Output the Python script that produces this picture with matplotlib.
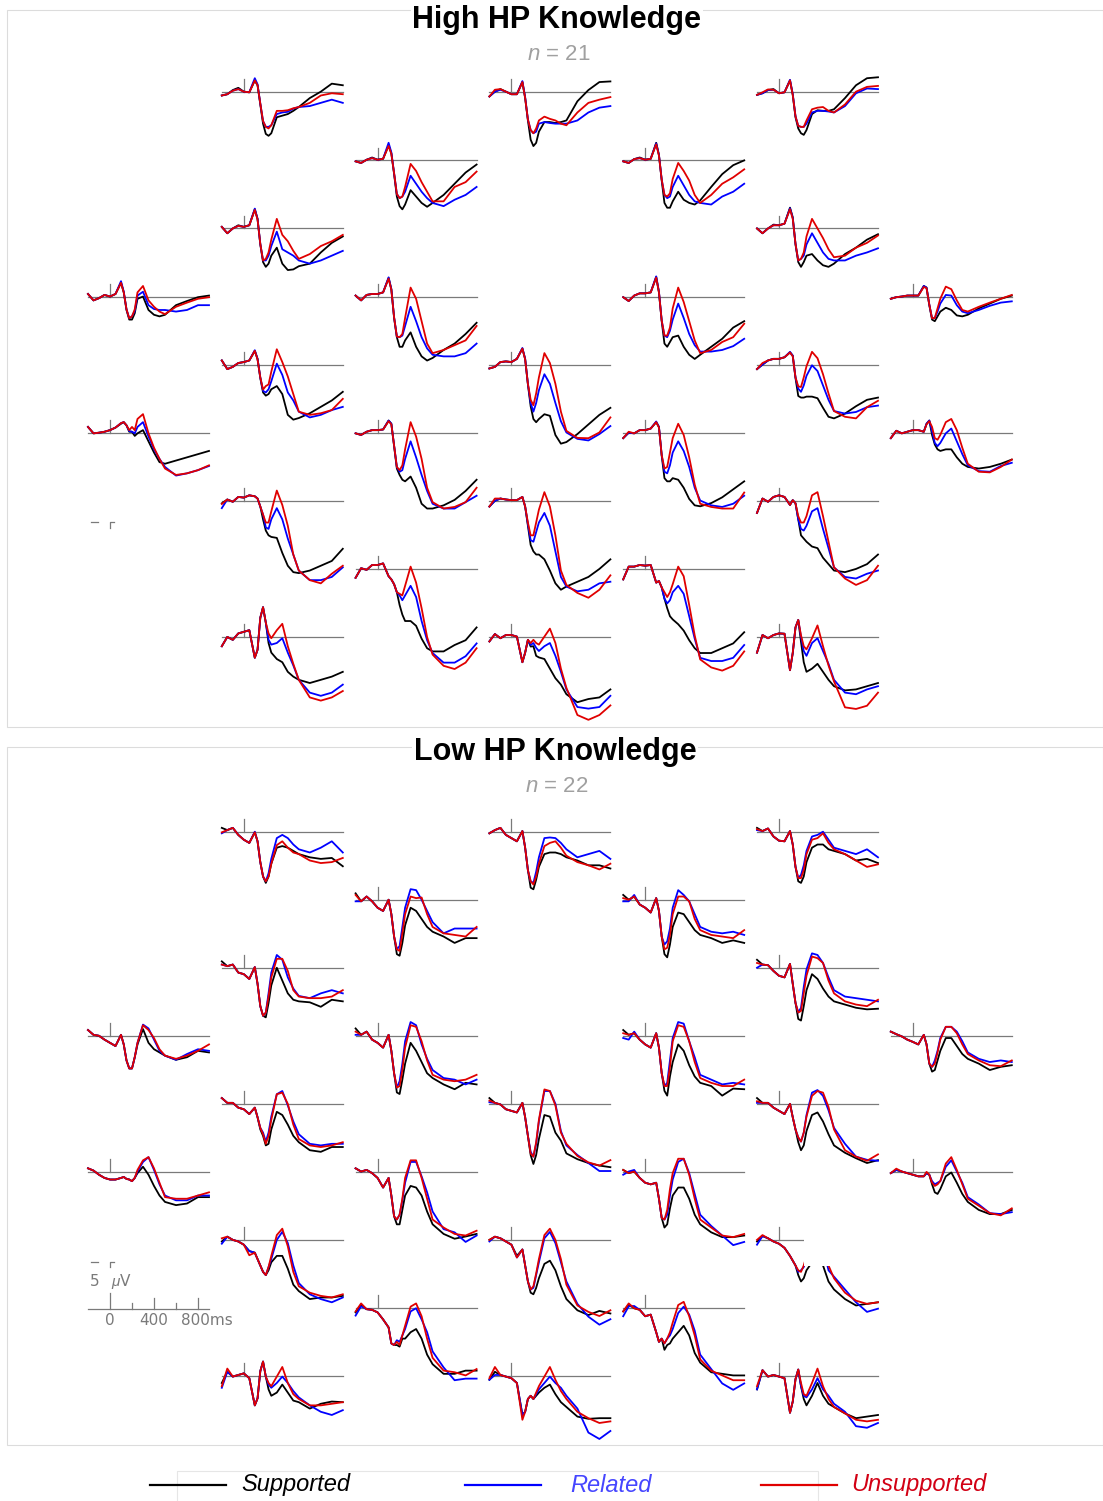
import matplotlib
matplotlib.use("Agg")
import matplotlib.pyplot as plt
from matplotlib.patches import Rectangle

plt.rcParams['font.family'] = ['Liberation Sans', 'DejaVu Sans']
plt.rcParams['mathtext.fontset'] = 'custom'
plt.rcParams['mathtext.it'] = 'Liberation Sans:italic'
plt.rcParams['mathtext.rm'] = 'Liberation Sans'

# ---------------- data ----------------
TIMES = [-200, -150, -100, -50, 0, 50, 100, 125, 150, 175, 200, 225, 250,
         300, 350, 400, 450, 500, 600, 700, 800, 900]          # ms
CONDITIONS = ['Supported', 'Related', 'Unsupported']
N_HIGH, N_LOW = 21, 22
# grid position of the 26 electrode sites (row 1..9, column 0..6)
SITE_ROW = [1, 1, 1, 2, 2, 3, 3, 4, 4, 4, 4, 5, 5, 5, 6, 6, 6, 6, 7, 7, 7, 8, 8, 9, 9, 9]
SITE_COL = [1, 3, 5, 2, 4, 1, 5, 0, 2, 4, 6, 1, 3, 5, 0, 2, 4, 6, 1, 3, 5, 2, 4, 1, 3, 5]

# amplitudes in microvolts (plotted negative up)
HIGH_SUPPORTED = [
    [1.0, 0.6, -0.7, -1.4, -0.2, 0.0, -3.7, -2.2, 3.8, 9.8, 13.0, 13.6, 12.8, 7.8, 7.3, 6.8, 5.8, 4.6, 1.8, -0.2, -2.7, -2.2],
    [1.3, -0.2, -1.0, -0.2, 0.6, 0.6, -3.2, 1.8, 8.8, 14.8, 16.8, 15.8, 12.3, 9.3, 9.3, 9.6, 9.3, 8.8, 2.8, -0.7, -3.2, -3.4],
    [0.8, 0.3, -0.7, -1.0, 0.3, 0.0, -3.7, 0.8, 7.8, 11.3, 12.8, 13.3, 11.8, 6.8, 5.6, 5.8, 5.8, 5.3, 1.8, -2.2, -4.4, -4.7],
    [0.3, 0.8, -0.2, -0.9, -0.2, -0.5, -4.7, -2.2, 4.3, 11.3, 14.3, 15.3, 13.8, 9.3, 11.3, 13.3, 14.5, 13.3, 10.8, 7.3, 3.8, 1.3],
    [0.3, 0.8, -0.4, -0.9, -0.2, -0.5, -5.5, -1.7, 6.3, 13.3, 14.8, 14.8, 12.8, 9.8, 12.3, 13.3, 13.8, 12.5, 8.3, 4.3, 1.5, 0.0],
    [-0.5, 1.5, 0.0, -1.0, -0.5, -1.0, -6.0, -3.0, 5.0, 10.5, 12.0, 11.0, 8.5, 6.0, 11.0, 13.0, 12.8, 11.8, 11.0, 7.5, 4.5, 2.5],
    [0.0, 1.5, 0.0, -1.2, -1.0, -1.5, -6.5, -3.5, 5.0, 10.5, 12.0, 10.5, 8.5, 8.0, 10.0, 11.5, 12.0, 11.0, 8.0, 6.0, 3.5, 1.8],
    [-0.8, 1.2, 0.5, -0.5, 0.0, -0.8, -4.3, -1.3, 4.2, 7.2, 7.2, 5.2, 0.7, 0.0, 4.2, 5.7, 6.2, 5.7, 2.7, 1.4, 0.2, -0.3],
    [-0.3, 1.2, -0.5, -0.8, -0.8, -1.3, -5.8, -2.3, 6.7, 12.7, 15.7, 15.7, 13.7, 11.2, 15.7, 18.7, 20.0, 19.2, 16.7, 14.7, 11.7, 8.2],
    [0.2, 1.4, -0.3, -1.0, -1.0, -1.3, -6.1, -1.3, 7.7, 14.7, 15.7, 14.2, 12.7, 12.2, 15.7, 18.2, 19.5, 18.2, 15.7, 13.2, 9.7, 7.7],
    [0.7, 0.2, 0.0, -0.3, -0.3, -0.3, -3.3, -2.8, 2.7, 7.2, 7.7, 6.2, 4.7, 3.5, 4.2, 5.9, 6.2, 5.7, 3.7, 2.2, 0.7, -0.3],
    [-1.3, 1.4, 0.7, -0.5, -0.8, -1.3, -4.3, -1.8, 4.2, 8.7, 9.7, 9.2, 7.7, 6.7, 9.2, 15.7, 17.2, 16.7, 15.2, 13.2, 11.2, 8.5],
    [1.2, 0.7, -0.8, -1.0, -0.8, -1.8, -5.0, -1.8, 6.2, 13.0, 17.0, 18.0, 17.0, 15.5, 16.0, 22.0, 24.7, 24.2, 21.7, 18.7, 15.7, 13.5],
    [1.4, 0.0, -1.3, -1.8, -1.8, -2.3, -3.8, -2.8, 4.2, 9.8, 10.3, 10.3, 10.0, 10.0, 10.5, 13.5, 16.3, 16.8, 15.3, 13.0, 11.0, 10.3],
    [-1.8, 0.2, 0.0, -0.3, -0.8, -1.6, -2.8, -3.3, -2.3, -0.3, -0.3, 1.0, 0.2, -0.8, 2.7, 6.2, 9.2, 9.7, 8.7, 7.7, 6.7, 5.7],
    [0.2, 0.7, -0.3, -0.8, -0.8, -1.0, -3.8, -2.8, 4.2, 11.2, 13.2, 14.7, 15.2, 13.7, 17.2, 22.2, 23.7, 23.7, 22.7, 21.0, 18.2, 14.7],
    [1.7, 0.0, 0.2, -0.8, -0.8, -1.3, -3.3, -1.8, 7.2, 14.2, 15.2, 15.2, 14.2, 14.7, 17.2, 20.7, 22.7, 23.0, 22.0, 20.2, 17.7, 15.2],
    [1.7, -0.6, 0.2, -0.3, -0.8, -0.8, -0.3, -2.8, -3.8, 0.7, 3.7, 5.2, 5.7, 5.2, 5.2, 7.7, 9.7, 10.7, 11.2, 10.7, 9.7, 8.4],
    [0.8, -0.4, 0.3, -1.2, -1.0, -1.7, -1.4, -0.7, 1.8, 5.8, 9.3, 10.8, 11.3, 11.6, 16.3, 20.3, 22.3, 22.6, 21.8, 20.3, 18.8, 15.0],
    [1.8, 0.0, -0.7, -0.4, -0.2, -0.2, -1.2, 1.8, 7.8, 13.8, 15.8, 16.8, 16.8, 18.3, 21.8, 25.8, 27.8, 26.8, 25.3, 23.8, 21.3, 18.3],
    [3.8, -0.7, 0.3, -1.2, -1.7, -1.2, 1.3, -0.2, 0.8, 5.8, 10.8, 11.8, 12.8, 14.3, 14.8, 17.8, 19.8, 21.8, 22.3, 21.3, 19.8, 16.8],
    [2.8, -0.2, 0.3, -1.2, -1.2, -1.7, 2.3, 3.3, 4.8, 7.3, 11.3, 14.3, 16.3, 16.3, 17.8, 21.8, 24.8, 25.8, 25.8, 23.8, 22.3, 18.3],
    [3.3, -0.7, -0.7, -1.2, -1.0, -1.2, 4.3, 3.8, 5.8, 9.3, 12.3, 14.8, 15.8, 17.3, 19.3, 22.3, 24.8, 26.3, 26.3, 24.8, 23.3, 19.8],
    [2.9, 0.0, 0.9, -1.1, -1.6, -2.1, 6.5, 4.0, -6.0, -9.3, -4.5, 1.9, 4.9, 6.9, 7.9, 10.9, 12.4, 13.4, 14.4, 13.4, 12.4, 10.9],
    [1.4, -0.9, 0.4, -0.6, -0.6, -0.1, 7.9, 4.9, 0.9, 3.0, 2.9, 5.9, 6.4, 6.9, 9.9, 12.9, 14.9, 17.9, 20.4, 19.4, 18.9, 16.4],
    [4.9, -0.6, 0.4, -0.6, -1.1, -1.0, 10.4, 5.0, -3.0, -5.3, 1.5, 7.9, 10.9, 9.9, 8.4, 10.9, 13.4, 15.4, 16.7, 16.4, 15.4, 14.4],
]
HIGH_RELATED = [
    [1.0, 0.6, -0.5, -1.0, -0.2, 0.0, -4.4, -2.5, 3.5, 9.0, 10.8, 10.8, 10.3, 6.8, 6.3, 6.1, 5.1, 4.6, 4.3, 3.3, 2.3, 3.3],
    [1.3, -0.2, -0.8, -0.2, 0.6, 0.6, -3.5, 1.5, 8.5, 11.8, 12.8, 12.3, 9.8, 9.3, 9.6, 9.8, 9.8, 9.8, 8.8, 6.3, 4.8, 4.3],
    [0.8, 0.3, -0.7, -0.8, 0.3, 0.0, -3.9, 0.5, 7.5, 10.5, 10.8, 10.8, 9.8, 6.3, 5.8, 5.8, 6.0, 6.3, 4.3, 0.3, -1.2, -1.0],
    [0.3, 0.8, -0.2, -0.7, -0.2, -0.5, -5.5, -2.5, 4.0, 10.5, 11.8, 11.3, 9.8, 4.8, 7.3, 9.8, 11.8, 13.3, 14.3, 12.3, 10.8, 8.3],
    [0.3, 0.8, -0.4, -0.7, -0.2, -0.5, -5.3, -1.7, 6.0, 10.8, 11.8, 11.3, 8.3, 4.8, 7.8, 10.8, 12.8, 13.3, 13.8, 11.3, 9.8, 7.3],
    [-0.5, 1.5, 0.0, -0.8, -0.5, -1.0, -6.2, -3.0, 4.8, 10.0, 10.0, 8.5, 5.5, 1.0, 6.5, 7.5, 8.5, 10.0, 11.0, 10.0, 8.5, 7.0],
    [0.0, 1.5, 0.0, -1.0, -1.0, -1.5, -6.3, -3.3, 4.8, 10.0, 9.5, 8.5, 5.0, 1.5, 4.5, 7.5, 9.5, 10.0, 10.0, 8.5, 7.5, 6.2],
    [-0.8, 1.2, 0.5, -0.5, 0.0, -0.8, -4.8, -1.5, 4.0, 6.8, 6.2, 4.5, -0.3, -1.5, 2.7, 3.9, 4.2, 4.2, 4.7, 4.2, 2.7, 2.7],
    [-0.3, 1.2, -0.5, -0.8, -0.8, -1.3, -6.0, -2.3, 6.5, 12.5, 12.7, 12.2, 9.2, 3.2, 7.7, 12.7, 16.2, 18.2, 18.7, 18.7, 17.7, 14.7],
    [0.2, 1.4, -0.3, -1.0, -1.0, -1.3, -6.3, -1.5, 7.5, 12.2, 12.7, 10.7, 7.2, 2.2, 6.7, 11.7, 15.2, 17.2, 17.2, 16.7, 15.5, 13.2],
    [0.7, 0.2, 0.0, -0.3, -0.3, -0.3, -3.3, -2.8, 2.5, 6.8, 6.7, 4.7, 2.2, -0.5, -0.3, 2.7, 4.7, 5.2, 4.2, 2.9, 1.9, 1.5],
    [-1.3, 1.4, 0.7, -0.5, -0.8, -1.3, -4.5, -1.8, 4.0, 8.2, 8.7, 7.7, 5.2, -0.3, 3.2, 8.7, 11.2, 14.7, 16.5, 15.7, 14.2, 13.2],
    [1.2, 0.7, -0.8, -1.0, -0.8, -1.8, -5.2, -1.8, 6.0, 12.0, 14.7, 12.0, 8.0, 3.0, 6.0, 12.0, 17.7, 21.2, 23.2, 23.7, 21.7, 19.2],
    [1.4, 0.0, -1.3, -1.8, -1.8, -2.3, -4.0, -2.8, 4.0, 7.5, 8.5, 6.5, 3.5, 0.2, 2.0, 6.5, 11.0, 14.5, 15.3, 14.8, 13.3, 12.8],
    [-1.8, 0.2, 0.0, -0.3, -0.8, -1.6, -3.0, -3.3, -2.3, -0.5, -0.3, 0.2, -1.8, -3.3, 1.2, 5.2, 8.2, 10.7, 13.4, 12.7, 11.7, 10.4],
    [0.2, 0.7, -0.3, -0.8, -0.8, -1.0, -3.8, -2.8, 4.0, 10.7, 12.2, 11.7, 8.2, 2.7, 7.7, 13.2, 18.2, 22.2, 23.7, 23.7, 21.7, 19.7],
    [1.7, 0.0, 0.2, -0.8, -0.8, -1.3, -3.5, -1.8, 7.0, 12.2, 12.7, 10.2, 6.2, 2.7, 5.7, 10.7, 17.2, 21.2, 22.7, 23.2, 22.2, 19.7],
    [1.7, -0.6, 0.2, -0.3, -0.8, -0.8, -0.3, -2.8, -3.8, -0.5, 3.2, 4.2, 3.2, 0.2, -1.3, 2.7, 6.7, 10.2, 12.0, 12.2, 10.4, 9.4],
    [2.3, -0.4, 0.3, -1.2, -1.0, -1.7, -1.4, -0.7, 1.8, 4.3, 8.3, 8.8, 5.8, 2.3, 5.8, 11.8, 16.8, 21.8, 24.8, 24.8, 23.8, 20.8],
    [1.8, 0.0, -0.7, -0.4, -0.2, -0.2, -1.2, 1.8, 7.3, 12.3, 12.8, 9.8, 6.8, 3.8, 7.8, 15.8, 23.8, 26.8, 28.3, 27.8, 25.8, 25.3],
    [3.8, -0.7, 0.3, -1.2, -1.7, -1.2, 1.3, -0.2, 0.8, 5.8, 8.8, 9.3, 7.8, 3.3, 2.3, 8.8, 14.8, 20.8, 23.8, 24.3, 22.8, 21.8],
    [2.8, -0.2, 0.3, -1.2, -1.2, -1.7, 2.3, 3.3, 4.8, 7.3, 8.3, 9.8, 8.3, 5.3, 8.8, 16.3, 22.3, 26.3, 29.3, 29.3, 27.3, 23.3],
    [3.3, -0.7, -0.7, -1.2, -1.0, -1.2, 4.3, 3.8, 5.8, 9.3, 10.8, 9.8, 7.3, 5.3, 7.8, 14.8, 21.8, 27.8, 28.8, 28.8, 27.8, 23.8],
    [2.9, 0.0, 0.9, -1.1, -1.6, -2.1, 6.5, 4.0, -6.0, -9.3, -4.5, 0.9, 2.4, 1.9, 0.4, 4.9, 8.9, 13.4, 17.4, 18.4, 17.4, 14.9],
    [1.4, -0.9, 0.4, -0.6, -0.6, -0.1, 7.9, 4.9, 0.9, 2.5, 1.9, 3.4, 4.4, 2.9, 1.9, 5.9, 10.9, 16.4, 21.9, 22.4, 21.9, 18.4],
    [4.9, -0.6, 0.4, -0.6, -1.1, -1.0, 10.4, 5.0, -3.0, -5.3, 0.0, 4.4, 5.9, 1.9, 0.4, 4.4, 8.4, 13.4, 17.4, 17.9, 16.4, 15.4],
]
HIGH_UNSUPPORTED = [
    [1.0, 0.6, -0.5, -1.0, -0.2, 0.0, -3.7, -2.2, 3.5, 9.0, 10.8, 11.3, 10.3, 5.8, 5.8, 5.6, 5.0, 4.6, 3.3, 1.0, 0.3, 0.6],
    [1.3, -0.8, -1.0, -0.2, 0.6, 0.6, -3.2, 1.8, 8.5, 11.8, 12.8, 11.3, 8.8, 7.6, 8.3, 8.8, 9.8, 10.3, 6.3, 3.3, 2.3, 1.5],
    [0.8, 0.0, -0.9, -0.8, 0.3, 0.0, -3.7, 0.8, 7.5, 10.5, 10.8, 10.8, 8.8, 5.3, 4.8, 4.6, 5.8, 6.3, 3.8, -0.2, -1.7, -2.0],
    [0.3, 0.8, -0.2, -0.7, -0.2, -0.5, -4.5, -2.0, 4.0, 10.5, 11.8, 11.3, 8.3, 1.1, 3.3, 6.8, 9.8, 12.8, 12.8, 8.3, 6.8, 3.5],
    [0.3, 0.8, -0.4, -0.7, -0.2, -0.5, -5.0, -1.5, 6.0, 10.8, 11.3, 10.3, 5.8, 0.8, 3.3, 6.3, 10.8, 13.3, 10.8, 7.3, 5.3, 2.8],
    [-0.5, 1.5, 0.0, -0.8, -0.5, -1.0, -5.8, -2.8, 4.8, 10.0, 9.5, 7.5, 3.5, -3.0, 2.0, 4.0, 7.0, 9.5, 8.0, 5.5, 4.0, 2.0],
    [0.0, 1.5, 0.0, -1.0, -1.0, -1.5, -6.0, -3.0, 4.8, 10.0, 9.5, 7.5, 2.5, -3.0, 0.0, 3.0, 6.5, 9.0, 8.5, 6.0, 4.5, 2.2],
    [-0.8, 1.2, 0.5, -0.5, 0.0, -0.8, -4.3, -1.3, 4.0, 6.8, 6.2, 4.0, -1.3, -3.3, 1.2, 3.2, 4.7, 5.5, 3.2, 1.9, 0.7, 0.2],
    [-0.3, 1.2, -0.5, -0.8, -0.8, -1.3, -5.6, -2.1, 6.5, 12.5, 12.7, 11.7, 6.7, -2.8, 0.7, 7.7, 14.7, 17.7, 16.7, 15.2, 13.7, 9.2],
    [0.2, 1.4, -0.3, -1.0, -1.0, -1.3, -5.9, -1.3, 7.5, 12.2, 12.2, 9.7, 3.7, -2.8, 1.7, 7.7, 13.7, 17.7, 16.7, 14.2, 12.7, 8.5],
    [0.7, 0.2, 0.0, -0.3, -0.3, -0.3, -3.0, -2.6, 2.5, 6.8, 6.7, 3.7, 0.7, -3.1, -2.3, 1.2, 4.2, 4.7, 3.2, 1.9, 0.7, -0.5],
    [-1.3, 1.4, 0.7, -0.5, -0.8, -1.3, -4.3, -1.6, 4.0, 7.8, 6.7, 6.2, 2.2, -4.8, -0.8, 3.7, 9.2, 14.7, 15.7, 15.2, 14.2, 10.7],
    [1.2, 0.7, -0.8, -1.0, -0.8, -1.8, -5.0, -1.6, 6.0, 11.0, 12.7, 9.0, 4.0, -3.6, -0.5, 6.0, 14.7, 20.7, 22.9, 23.0, 21.2, 16.5],
    [1.4, -0.5, -1.3, -1.8, -1.8, -2.3, -3.8, -2.6, 4.0, 6.8, 7.0, 4.0, 0.5, -4.0, -2.0, 3.0, 9.0, 14.5, 16.3, 16.8, 13.3, 11.3],
    [-1.8, 0.2, 0.0, -0.3, -0.8, -1.6, -3.0, -3.3, -2.3, -0.8, -1.8, -0.8, -4.3, -5.8, 0.2, 4.7, 8.2, 11.2, 13.2, 12.7, 11.7, 10.2],
    [0.2, 0.7, -0.3, -0.8, -0.8, -1.0, -3.6, -2.6, 4.0, 10.7, 11.7, 10.2, 5.2, -3.3, 1.2, 8.2, 17.2, 21.7, 23.7, 23.2, 21.7, 17.2],
    [1.7, -0.3, 0.2, -0.8, -0.8, -1.3, -3.3, -1.6, 7.0, 11.2, 10.7, 6.2, 1.7, -2.8, 0.7, 7.7, 16.2, 22.2, 23.2, 23.7, 23.7, 18.7],
    [1.7, -0.6, 0.2, -0.3, -0.8, -0.8, -0.3, -2.6, -3.6, -1.8, 1.7, 2.2, 0.7, -3.3, -4.3, -0.8, 4.7, 9.7, 12.2, 12.4, 10.7, 8.4],
    [1.0, -0.4, 0.3, -1.2, -1.0, -1.7, -1.4, -0.7, 1.8, 4.3, 6.8, 6.8, 3.3, -3.2, 1.3, 7.8, 16.8, 21.8, 24.8, 25.8, 22.8, 20.3],
    [1.8, -0.7, -0.7, -0.4, -0.2, -0.2, -1.2, 1.8, 6.8, 10.8, 10.8, 6.8, 2.8, -2.7, 1.8, 10.8, 21.8, 26.3, 28.8, 30.3, 27.8, 23.3],
    [3.8, -0.7, 0.3, -1.2, -1.7, -1.2, 1.3, -0.2, 0.8, 4.8, 6.8, 6.8, 4.8, -1.7, -2.7, 4.8, 12.8, 20.8, 24.3, 26.3, 24.8, 20.3],
    [2.8, -0.2, 0.3, -1.2, -1.2, -1.7, 2.3, 3.3, 4.8, 7.3, 7.8, 8.3, 5.3, -0.7, 4.3, 12.3, 21.3, 26.8, 30.3, 31.3, 29.3, 24.8],
    [3.3, -0.7, -0.7, -1.2, -1.0, -1.2, 4.3, 3.8, 5.8, 7.3, 8.8, 7.3, 4.8, -0.7, 2.3, 11.3, 20.8, 28.3, 30.8, 31.8, 30.3, 25.8],
    [2.9, 0.0, 0.9, -1.1, -1.6, -2.1, 6.5, 4.0, -6.0, -9.3, -4.5, -1.1, 0.4, -2.1, -4.1, 2.9, 8.4, 13.4, 18.9, 19.9, 18.9, 16.9],
    [1.4, -0.9, 0.4, -0.6, -0.6, -0.1, 7.9, 4.9, 0.9, 1.9, 0.9, 1.9, 2.4, -0.1, -2.6, 1.9, 9.9, 15.9, 24.4, 25.9, 24.4, 21.4],
    [4.9, -0.6, 0.4, -0.6, -1.1, -1.0, 10.4, 5.0, -3.0, -5.3, -0.5, 2.9, 3.9, 0.4, -3.6, 2.9, 8.9, 13.9, 22.0, 22.5, 21.5, 17.4],
]
LOW_SUPPORTED = [
    [-1.2, -0.5, -1.2, 1.0, 2.5, 3.5, 0.2, 3.0, 9.5, 14.0, 16.0, 14.0, 10.0, 5.0, 4.5, 5.0, 6.0, 7.0, 8.0, 8.5, 8.2, 10.8],
    [0.5, -0.5, -1.2, 1.0, 2.0, 3.0, -0.2, 5.0, 12.0, 17.5, 18.0, 15.0, 11.0, 7.0, 6.5, 6.5, 7.0, 8.0, 9.0, 10.5, 10.5, 11.5],
    [-1.2, -0.2, -1.0, 1.5, 2.8, 3.0, -0.2, 4.0, 11.0, 15.5, 16.0, 14.0, 9.5, 5.0, 4.0, 4.0, 5.5, 6.0, 7.0, 9.0, 8.5, 9.8],
    [-2.0, 0.5, -1.0, 0.5, 2.5, 3.5, 0.0, 4.5, 11.5, 17.0, 17.5, 13.5, 8.0, 2.5, 3.5, 6.0, 8.5, 10.0, 11.5, 13.5, 12.0, 12.0],
    [-1.5, 0.0, -1.0, 1.5, 2.5, 4.0, -0.5, 3.5, 11.5, 17.0, 18.0, 14.0, 8.5, 4.0, 4.5, 7.0, 9.5, 11.0, 12.0, 13.5, 12.7, 13.5],
    [-2.0, -0.5, -1.0, 1.5, 2.0, 3.5, -0.2, 5.0, 12.0, 15.0, 15.5, 11.0, 5.5, 0.0, 4.0, 8.0, 10.0, 10.5, 10.8, 12.2, 10.0, 10.5],
    [-2.5, -1.0, -0.8, 1.0, 2.5, 3.0, -1.2, 5.0, 11.0, 16.0, 16.5, 12.0, 7.0, 2.0, 3.5, 6.5, 9.0, 10.5, 11.5, 12.5, 13.0, 12.8],
    [-1.8, -0.3, 0.0, 1.2, 2.2, 3.2, -0.3, 2.7, 7.7, 10.2, 10.2, 6.7, 2.7, -2.1, 2.2, 4.2, 5.2, 6.2, 7.5, 6.7, 4.7, 5.2],
    [-2.3, -0.3, -1.3, 1.2, 2.2, 3.7, -0.3, 4.7, 11.7, 17.7, 18.2, 13.7, 8.7, 2.2, 4.7, 8.2, 11.7, 13.2, 15.2, 16.7, 14.7, 15.2],
    [-1.8, -0.3, -0.8, 1.2, 2.7, 3.7, -0.8, 3.7, 11.7, 17.2, 18.7, 12.7, 8.2, 2.7, 4.7, 9.2, 12.7, 14.7, 15.7, 18.7, 16.5, 16.7],
    [-1.3, -0.5, 0.2, 1.2, 1.9, 2.7, -0.3, 2.7, 8.7, 11.2, 10.7, 7.7, 4.7, 0.7, 0.7, 3.2, 5.7, 7.2, 8.7, 10.7, 9.7, 9.2],
    [-1.8, -0.3, -0.3, 1.2, 1.7, 3.2, 1.2, 4.2, 8.0, 10.0, 13.0, 12.5, 8.0, 2.5, 3.5, 6.5, 10.0, 12.0, 14.5, 15.0, 13.5, 13.5],
    [-1.8, -0.3, 0.2, 1.7, 2.2, 2.7, -0.3, 4.2, 10.0, 16.0, 18.8, 16.0, 11.0, 3.5, 4.0, 9.0, 11.5, 15.5, 17.3, 18.5, 19.3, 19.8],
    [-1.8, -0.3, -0.3, 1.2, 2.2, 3.2, 0.0, 4.2, 8.0, 12.0, 14.5, 13.0, 8.5, 3.5, 2.7, 5.5, 9.5, 13.0, 15.3, 17.0, 18.5, 17.6],
    [-1.1, -0.4, 0.9, 1.9, 2.4, 2.4, 1.9, 1.6, 2.2, 2.4, 2.9, 1.9, 0.4, -1.6, 0.9, 4.4, 7.4, 9.4, 10.4, 9.9, 7.9, 7.9],
    [-1.1, -0.1, -0.6, 0.4, 1.9, 4.9, 1.9, 7.4, 13.9, 16.4, 16.4, 11.9, 7.4, 4.4, 4.9, 7.4, 12.4, 16.4, 19.4, 20.9, 20.2, 19.4],
    [-0.6, 0.4, -0.1, 1.9, 3.4, 3.9, 3.4, 8.4, 14.4, 17.4, 16.4, 11.4, 7.4, 4.9, 4.9, 8.4, 13.4, 16.4, 18.9, 20.4, 20.4, 19.9],
    [0.4, -0.6, -0.1, 0.4, 0.9, 1.4, 1.4, 0.4, 0.9, 3.9, 6.4, 6.9, 5.4, 1.4, 0.2, 3.4, 6.9, 9.4, 11.9, 13.2, 13.2, 11.9],
    [0.5, -1.0, 0.0, 0.5, 1.5, 3.5, 4.0, 6.0, 8.0, 10.0, 11.0, 9.5, 7.0, 5.0, 5.0, 9.0, 14.0, 16.0, 18.5, 18.0, 18.0, 17.5],
    [0.0, -1.0, -0.5, 0.5, 1.5, 5.0, 3.0, 8.0, 13.0, 16.5, 17.0, 15.0, 12.0, 7.5, 6.5, 9.5, 14.5, 18.5, 22.0, 23.5, 22.2, 23.0],
    [0.5, -1.2, -0.5, 0.5, 1.2, 2.5, 5.0, 6.5, 8.0, 11.0, 13.0, 12.0, 9.5, 7.0, 6.0, 8.0, 13.0, 15.5, 18.5, 20.5, 20.0, 19.5],
    [1.4, -1.0, 0.4, 0.6, 1.4, 3.6, 6.1, 11.1, 11.6, 11.6, 12.1, 9.6, 9.6, 7.6, 6.6, 9.6, 14.6, 17.6, 20.6, 20.6, 19.6, 19.6],
    [1.1, -1.0, 0.1, 0.6, 2.6, 2.1, 7.6, 10.6, 9.6, 13.1, 11.6, 11.1, 9.6, 7.6, 5.6, 8.6, 14.1, 17.1, 20.1, 20.6, 21.1, 21.1],
    [2.2, -1.3, 0.2, -0.3, -0.8, 0.7, 9.2, 7.0, -1.5, -4.5, 0.2, 4.2, 6.2, 5.2, 2.7, 5.2, 7.7, 8.2, 10.2, 8.7, 8.0, 8.2],
    [1.2, -1.3, -0.3, 0.2, 0.7, 2.2, 12.2, 11.2, 7.2, 6.2, 7.2, 6.2, 5.2, 3.7, 2.7, 5.7, 8.2, 9.7, 12.7, 13.4, 13.2, 13.2],
    [4.2, -1.8, 0.2, -0.3, 0.2, 0.7, 11.5, 8.0, 1.0, -2.0, 3.2, 7.2, 9.2, 6.2, 2.2, 6.2, 8.7, 9.7, 11.7, 13.2, 12.7, 12.2],
]
LOW_RELATED = [
    [0.5, -0.5, -1.2, 1.0, 2.5, 3.5, 0.0, 3.0, 9.5, 14.0, 15.5, 13.0, 8.5, 2.0, 1.0, 2.0, 4.0, 5.5, 6.5, 5.0, 3.0, 6.5],
    [0.5, -0.5, -1.2, 1.0, 2.0, 3.0, -0.2, 5.0, 12.0, 15.5, 16.0, 12.5, 8.0, 2.0, 1.8, 2.0, 3.5, 5.5, 8.0, 7.0, 6.0, 8.5],
    [-0.5, -0.2, -1.0, 1.5, 2.8, 3.0, -0.2, 4.0, 11.0, 14.5, 13.5, 10.5, 6.0, 1.5, 1.0, 0.0, 2.5, 5.0, 6.0, 7.0, 5.5, 8.0],
    [0.5, 0.5, -1.0, 0.5, 2.5, 3.5, 0.0, 4.5, 11.5, 15.5, 14.5, 8.5, 2.5, -3.3, -3.0, 0.0, 3.5, 7.0, 10.5, 9.0, 9.0, 9.0],
    [0.5, 0.5, -1.5, 1.5, 2.5, 4.0, -0.5, 3.5, 11.5, 14.0, 13.0, 9.0, 2.5, -3.0, -1.5, 0.5, 4.5, 8.5, 10.0, 10.5, 10.0, 11.0],
    [-1.0, -0.5, -1.0, 1.5, 2.0, 3.5, -0.2, 5.0, 12.0, 15.0, 14.0, 8.0, 1.5, -4.0, -2.5, 3.0, 6.5, 8.8, 9.5, 8.0, 7.0, 8.0],
    [0.0, -1.0, -0.8, 1.0, 2.5, 3.0, -1.2, 5.0, 11.0, 14.0, 12.5, 6.0, 0.5, -4.5, -4.0, -1.5, 3.0, 7.0, 9.0, 9.5, 10.0, 10.5],
    [-1.8, -0.3, 0.0, 1.2, 2.2, 3.2, -0.3, 2.7, 7.7, 10.2, 10.2, 6.7, 2.2, -3.5, -2.3, 1.2, 4.7, 6.2, 7.5, 5.7, 4.2, 4.7],
    [-0.3, -0.3, -1.3, 1.2, 2.2, 3.7, -0.3, 4.7, 11.7, 16.2, 14.2, 8.7, 1.7, -4.3, -3.3, 2.7, 7.2, 10.7, 13.2, 13.7, 15.2, 13.7],
    [0.7, 1.2, -1.3, 1.2, 2.7, 3.7, -0.8, 3.7, 11.7, 15.7, 14.7, 7.7, 0.7, -4.3, -3.8, 1.7, 6.7, 12.2, 13.7, 15.2, 14.7, 15.2],
    [-1.3, -0.5, 0.2, 1.2, 1.9, 2.7, -0.3, 2.7, 8.7, 9.7, 7.7, 4.7, 0.7, -2.8, -2.8, -1.3, 1.7, 5.2, 7.2, 8.2, 7.7, 8.2],
    [-1.8, -0.3, -0.3, 1.2, 1.7, 3.2, 1.2, 4.2, 7.5, 9.0, 11.8, 9.0, 4.0, -3.0, -4.0, 0.5, 5.5, 9.5, 12.5, 13.0, 12.5, 12.5],
    [-0.5, -0.3, 0.2, 1.7, 2.2, 2.7, -0.3, 4.2, 10.0, 15.0, 16.5, 12.5, 5.5, -4.0, -4.0, 0.0, 8.5, 13.0, 16.0, 18.5, 21.0, 21.0],
    [-0.3, -0.3, -0.3, 1.2, 2.2, 3.2, 0.0, 4.2, 8.0, 10.5, 11.8, 9.0, 3.5, -3.5, -4.3, -2.5, 2.0, 7.5, 12.5, 16.5, 17.5, 17.8],
    [-1.1, -0.4, 0.9, 1.9, 2.4, 2.4, 1.9, 1.6, 2.2, 2.4, 2.9, 1.9, -0.1, -3.1, -4.6, -0.6, 3.9, 7.4, 8.9, 8.9, 7.4, 7.4],
    [-1.1, -0.1, -0.6, 0.4, 1.9, 4.9, 1.9, 7.4, 13.9, 14.9, 13.4, 8.9, 3.4, -3.1, -3.1, 1.4, 6.4, 12.4, 17.9, 18.9, 21.9, 19.9],
    [0.9, -0.1, -0.6, 1.9, 3.4, 3.9, 3.4, 8.4, 14.4, 14.9, 13.4, 7.4, 2.4, -3.1, -4.1, 0.4, 6.9, 13.4, 16.9, 19.9, 22.9, 21.9],
    [0.4, -0.6, -0.1, 0.4, 0.9, 1.4, 1.4, 0.4, 0.9, 2.9, 3.9, 3.4, 2.9, -1.6, -3.6, -0.1, 3.4, 7.9, 10.2, 12.9, 13.2, 12.6],
    [1.2, -1.0, 0.0, 0.5, 1.5, 3.5, 4.0, 6.0, 8.0, 10.0, 11.0, 8.5, 6.0, 0.0, -2.5, 1.0, 8.0, 13.5, 17.0, 18.5, 19.5, 18.0],
    [0.5, -1.0, -0.5, 0.5, 1.5, 5.5, 3.0, 8.0, 13.0, 15.5, 15.0, 11.0, 7.0, -0.5, -2.5, 1.0, 7.0, 13.0, 20.0, 24.0, 26.5, 24.8],
    [1.5, -1.2, -0.5, 0.5, 1.2, 2.5, 5.0, 6.5, 8.0, 10.0, 9.5, 8.5, 6.0, 0.5, -2.0, 2.0, 9.5, 11.5, 15.5, 19.5, 22.5, 21.5],
    [2.4, -0.5, 0.4, 0.6, 1.4, 3.6, 6.1, 11.1, 11.6, 10.1, 10.6, 8.6, 6.6, 1.1, 0.1, 3.6, 7.6, 13.6, 18.6, 22.6, 22.1, 22.1],
    [2.6, -0.5, -0.6, 0.6, 2.6, 2.1, 7.6, 10.6, 9.6, 11.1, 9.6, 8.6, 6.6, 1.6, -0.4, 2.1, 7.1, 14.6, 19.1, 23.6, 25.6, 23.6],
    [3.7, -1.3, 0.2, -0.3, -0.8, 0.7, 9.2, 7.0, -1.5, -4.5, 0.2, 2.7, 3.7, 2.2, 0.2, 2.2, 4.7, 6.7, 9.2, 11.2, 12.2, 10.7],
    [1.2, -0.3, -0.3, 0.2, 0.7, 2.2, 12.2, 11.2, 7.2, 6.2, 7.2, 5.7, 4.2, 2.2, 0.2, 2.2, 3.7, 6.2, 10.2, 17.7, 19.7, 17.2],
    [4.2, -1.8, 0.2, -0.3, 0.2, 0.7, 11.5, 8.0, 1.0, -2.0, 3.2, 6.2, 6.7, 4.2, 0.7, 4.2, 6.2, 8.7, 11.2, 15.7, 16.2, 14.7],
]
LOW_UNSUPPORTED = [
    [0.2, -0.5, -1.2, 1.0, 2.5, 3.5, 0.2, 3.0, 9.5, 14.0, 15.5, 14.0, 10.0, 4.2, 3.0, 5.0, 6.5, 7.0, 9.0, 9.8, 9.5, 8.2],
    [0.5, -0.5, -1.2, 1.0, 2.0, 3.0, -0.2, 5.0, 12.0, 15.5, 16.5, 14.0, 10.0, 4.5, 3.5, 3.0, 5.0, 7.5, 9.5, 10.5, 11.8, 10.0],
    [-0.8, -0.2, -1.0, 1.5, 2.8, 3.0, -0.2, 4.0, 11.0, 14.5, 14.5, 12.0, 7.0, 2.5, 2.0, 0.5, 3.5, 5.5, 7.0, 9.0, 11.0, 10.2],
    [-1.5, 0.5, -1.0, 0.5, 2.5, 3.5, 0.0, 4.5, 11.5, 15.5, 16.0, 10.5, 4.5, -1.0, -0.5, -0.7, 4.5, 8.5, 10.5, 11.0, 11.5, 8.5],
    [-0.5, 0.0, -1.0, 1.5, 2.5, 4.0, -0.5, 3.5, 11.5, 15.5, 15.0, 11.0, 4.5, -1.0, -1.0, 0.5, 6.0, 9.5, 11.0, 11.5, 12.0, 9.5],
    [-1.0, -0.5, -1.0, 1.5, 2.0, 3.5, -0.2, 5.0, 12.0, 15.0, 14.0, 9.0, 3.0, -2.8, -2.8, 1.0, 7.0, 9.0, 9.5, 9.5, 9.0, 7.0],
    [-1.5, -1.0, -0.8, 1.0, 2.5, 3.0, -1.2, 5.0, 11.0, 14.0, 13.5, 8.0, 2.5, -3.5, -3.0, -1.5, 4.0, 8.0, 10.5, 11.5, 12.0, 10.0],
    [-1.8, -0.3, 0.0, 1.2, 2.2, 3.2, -0.3, 2.7, 7.7, 10.2, 10.2, 6.7, 2.2, -3.3, -1.8, 0.7, 4.2, 6.2, 7.2, 6.2, 4.7, 2.7],
    [-1.3, -0.3, -1.3, 1.2, 2.2, 3.7, -0.3, 4.7, 11.7, 16.2, 15.7, 10.7, 3.7, -3.3, -2.8, 1.7, 7.7, 12.2, 13.7, 14.2, 13.7, 12.2],
    [-0.8, -0.3, -0.8, 1.2, 2.7, 3.7, -0.8, 3.7, 11.7, 15.7, 15.7, 9.7, 1.7, -3.3, -2.8, 1.7, 8.2, 13.2, 14.7, 15.7, 15.7, 13.7],
    [-1.3, -0.5, 0.2, 1.2, 1.9, 2.7, -0.3, 2.7, 8.7, 9.7, 8.7, 5.2, 1.2, -2.8, -2.8, -0.8, 2.7, 5.7, 7.7, 9.2, 9.5, 7.7],
    [-1.8, -0.3, -0.3, 1.2, 1.7, 3.2, 1.2, 4.2, 7.5, 9.5, 12.5, 10.0, 5.0, -3.0, -3.5, 0.0, 6.5, 11.0, 13.0, 13.5, 13.0, 12.0],
    [-1.0, -0.3, 0.2, 1.7, 2.2, 2.7, -0.3, 4.2, 10.0, 15.5, 16.5, 12.0, 5.0, -4.5, -4.0, 0.5, 9.0, 12.5, 16.3, 18.3, 19.3, 17.6],
    [-0.8, -0.3, -0.3, 1.2, 2.2, 3.2, 0.0, 4.2, 8.0, 10.5, 11.8, 9.0, 4.0, -2.5, -4.0, -3.5, 1.0, 8.0, 14.5, 16.5, 17.8, 15.8],
    [-1.1, -0.4, 0.9, 1.9, 2.4, 2.4, 1.9, 1.6, 2.2, 2.4, 2.9, 1.9, -0.6, -3.6, -4.6, -1.1, 3.4, 7.9, 8.4, 8.4, 7.4, 6.4],
    [-1.1, -0.1, -0.6, 0.4, 1.9, 4.9, 1.9, 7.4, 13.9, 14.9, 13.4, 8.4, 1.9, -3.6, -3.6, 1.9, 8.4, 14.9, 17.4, 19.4, 19.9, 18.4],
    [-0.6, 0.4, -0.1, 1.9, 3.4, 3.9, 3.4, 8.4, 14.4, 14.9, 11.9, 5.4, 0.4, -4.1, -4.1, 0.9, 8.4, 14.9, 17.4, 19.9, 20.4, 19.4],
    [0.4, -1.0, -0.1, 0.4, 0.9, 1.4, 1.4, 0.0, 0.9, 3.4, 4.4, 3.9, 2.9, -2.6, -4.6, -0.6, 3.9, 8.4, 10.6, 12.9, 13.6, 11.4],
    [-0.5, -1.0, 0.0, 0.5, 1.5, 4.8, 4.0, 6.0, 8.0, 10.0, 11.0, 8.5, 5.0, -1.5, -3.5, 2.0, 10.0, 14.5, 16.5, 17.5, 18.0, 17.0],
    [0.0, -1.0, -0.5, 0.5, 1.5, 5.5, 3.0, 8.0, 13.0, 15.5, 14.5, 10.5, 6.0, -1.5, -3.5, 0.0, 6.0, 14.0, 20.5, 22.5, 23.8, 22.0],
    [0.0, -1.5, -0.5, 0.5, 1.2, 2.5, 5.0, 6.5, 8.0, 9.5, 10.0, 8.0, 5.0, -1.0, -3.0, 1.0, 8.0, 12.0, 16.5, 19.0, 20.0, 19.5],
    [1.1, -1.4, 0.4, 0.6, 1.4, 3.6, 6.1, 11.1, 11.6, 10.6, 11.6, 8.6, 5.6, -0.4, -1.4, 2.6, 9.6, 15.6, 19.6, 20.1, 21.1, 19.1],
    [1.1, -1.4, 0.1, 0.6, 2.6, 2.1, 7.6, 10.6, 9.6, 11.1, 9.6, 7.6, 4.6, -0.9, -1.9, 2.6, 8.6, 16.1, 19.6, 21.1, 22.6, 22.6],
    [3.2, -2.3, 0.2, -0.3, -0.8, 0.7, 9.2, 7.0, -1.5, -4.5, 0.2, 2.2, 3.2, 0.2, -2.8, 2.2, 5.7, 7.2, 9.2, 9.2, 8.7, 8.2],
    [0.7, -2.8, -0.3, 0.2, 0.7, 2.2, 13.7, 11.2, 7.2, 6.2, 7.2, 5.2, 3.2, 0.2, -2.8, 1.2, 4.7, 7.2, 11.2, 13.2, 14.7, 14.2],
    [3.2, -1.8, 0.2, -0.3, 0.2, 0.7, 11.5, 8.0, 1.0, -2.0, 2.2, 5.7, 6.2, 2.2, -2.3, 3.2, 7.2, 9.7, 11.7, 13.7, 14.2, 13.7],
]
SCALE_TICKS = [0, 200, 400, 600, 800]      # ms
SCALE_UV = 5                               # microvolts

# ---------------- layout / style ----------------
W, H = 1103, 1501
PX_PER_UV = 3.2
X0_PX, COL_STEP, CELL_W = 88.0, 133.8, 121.0
TOP_UV, BOT_UV = -18.0, 36.0
COLORS = ['#000000', '#0000ff', '#e00000']
GRAY = '#7a7a7a'

fig = plt.figure(figsize=(W / 100, H / 100), dpi=100)


def cell_axes(baseline_px, col):
    left = X0_PX + COL_STEP * col
    bottom_px = baseline_px + BOT_UV * PX_PER_UV
    ax = fig.add_axes([left / W, 1 - bottom_px / H, CELL_W / W,
                       (BOT_UV - TOP_UV) * PX_PER_UV / H])
    ax.set_xlim(TIMES[0], TIMES[-1])
    ax.set_ylim(BOT_UV, TOP_UV)
    ax.set_axis_off()
    return ax


panels = [
    dict(title='High HP Knowledge', n=N_HIGH, tx=557, ty=20, ny=55, base=92.3, step=68.08,
         data=[HIGH_SUPPORTED, HIGH_RELATED, HIGH_UNSUPPORTED], full_scale=False),
    dict(title='Low HP Knowledge', n=N_LOW, tx=555, ty=752, ny=787, base=831.7, step=68.03,
         data=[LOW_SUPPORTED, LOW_RELATED, LOW_UNSUPPORTED], full_scale=True),
]

for p in panels:
    for i in range(len(SITE_ROW)):
        b = p['base'] + p['step'] * (SITE_ROW[i] - 1)
        ax = cell_axes(b, SITE_COL[i])
        ax.plot([TIMES[0], TIMES[-1]], [0, 0], color=GRAY, lw=0.9, clip_on=False)
        ax.plot([0, 0], [0, -4], color=GRAY, lw=0.9, clip_on=False)
        for series, c in zip(p['data'], COLORS):
            ax.plot(TIMES, series[i], color=c, lw=1.3, clip_on=False,
                    solid_joinstyle='round')
    # scale / polarity marks at column 0, row 8 position
    sb = p['base'] + p['step'] * 7 + 1.3
    sax = cell_axes(sb, 0)
    sax.plot([-170, -105], [-14.9, -14.9], color=GRAY, lw=0.9, clip_on=False)
    sax.plot([0, 0, 35], [-13.3, -14.9, -14.9], color=GRAY, lw=0.9, clip_on=False)
    if p['full_scale']:
        sax.plot([TIMES[0], TIMES[-1]], [0, 0], color=GRAY, lw=0.9, clip_on=False)
        sax.plot([0, 0], [0, -SCALE_UV], color=GRAY, lw=0.9, clip_on=False)
        for t in SCALE_TICKS[1:]:
            ln = 3.4 if t % 400 == 0 else 1.9
            sax.plot([t, t], [0, -ln], color=GRAY, lw=0.9, clip_on=False)
        sax.text(-139, -8.6, '%d' % SCALE_UV, ha='center', va='center', fontsize=11,
                 color=GRAY, family='DejaVu Sans')
        sax.text(5, -8.6, r'$\mu$V', ha='left', va='center', fontsize=11,
                 color=GRAY, family='DejaVu Sans')
        sax.text(0, 3.5, '0', ha='center', va='center', fontsize=11, color=GRAY,
                 family='DejaVu Sans')
        sax.text(400, 3.5, '400', ha='center', va='center', fontsize=11, color=GRAY,
                 family='DejaVu Sans')
        sax.text(645, 3.5, '800ms', ha='left', va='center', fontsize=11, color=GRAY,
                 family='DejaVu Sans')

# ---------------- overlay: frames, mask, titles, legend ----------------
ov = fig.add_axes([0, 0, 1, 1])
ov.set_zorder(10)
ov.set_xlim(0, W)
ov.set_ylim(H, 0)
ov.set_axis_off()
ov.add_patch(Rectangle((7, 10), 1096, 717, fill=False, ec='#dcdcdc', lw=0.8))
ov.add_patch(Rectangle((7, 747), 1096, 698, fill=False, ec='#dcdcdc', lw=0.8))
# blank region seen in the lower panel (row 7, column 5)
ov.add_patch(Rectangle((803.5, 1208), 80, 57.5, fc='white', ec='none'))
ov.add_patch(Rectangle((177, 1471), 641, 40, fill=False, ec='#e6e6e6', lw=0.8))

for p in panels:
    ov.text(p['tx'], p['ty'], p['title'], ha='center', va='center', fontsize=22,
            fontweight='bold', color='black',
            bbox=dict(fc='white', ec='none', pad=1.0))
    ov.text(p['tx'] + 2, p['ny'], r'$n$ = %d' % p['n'], ha='center', va='center',
            fontsize=16, color='#a0a0a0')

legend_lines = [(150, 226), (465, 541), (761, 837)]
legend_text_x = [241, 570, 851]
legend_text_col = ['#000000', '#4646ff', '#d20014']
for (x0, x1), tx, lc, tc, lab in zip(legend_lines, legend_text_x, COLORS,
                                      legend_text_col, CONDITIONS):
    ov.plot([x0, x1], [1485, 1485], color=lc, lw=1.6)
    ov.text(tx, 1485, lab, ha='left', va='center', fontsize=17, style='italic', color=tc)

fig.savefig('out.png', dpi=100)
